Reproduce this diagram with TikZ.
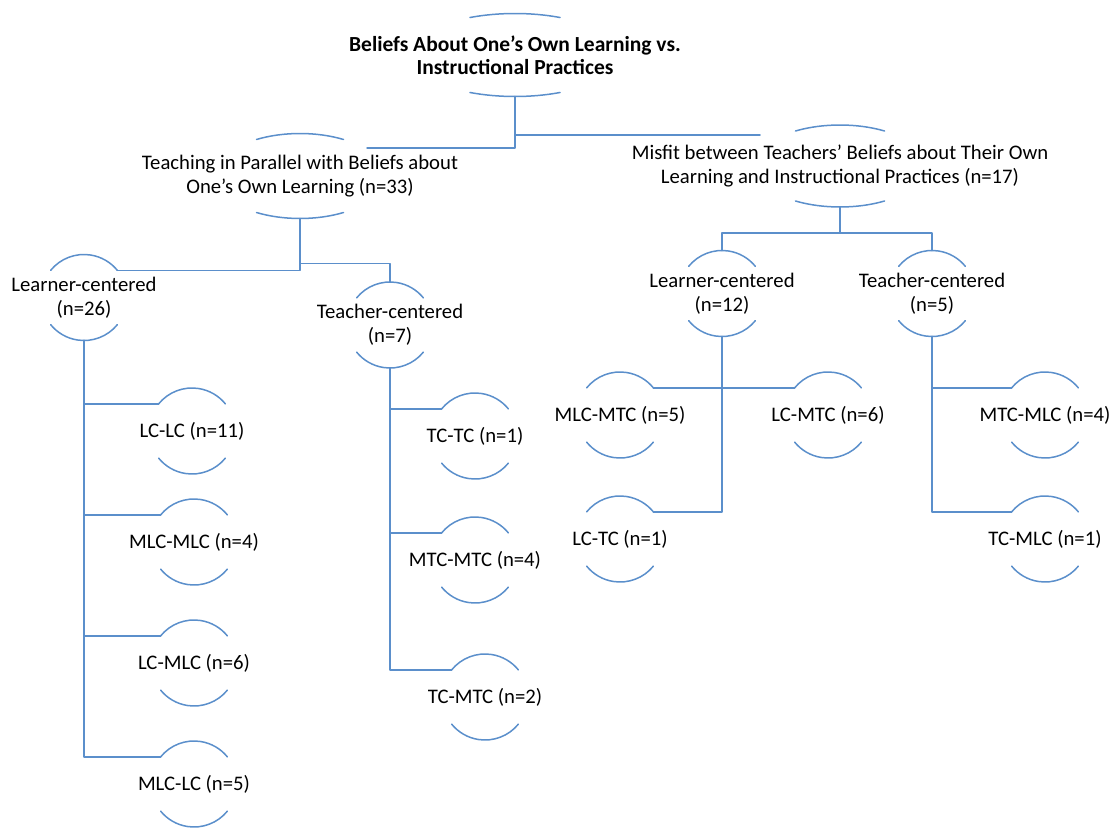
\documentclass[tikz,border=0pt]{standalone}
\usepackage{fontspec}
\setmainfont{Carlito}
\definecolor{linkblue}{RGB}{91,143,203}
\tikzset{
  lbl/.style={align=center, inner sep=0pt, font=\fontsize{20.7}{24}\selectfont},
  link/.style={draw=linkblue, line width=1.5pt},
}
\begin{document}
\begin{tikzpicture}[x=1pt,y=-1pt,line join=round,line cap=round]
				\useasboundingbox (0,0) rectangle (1110,829);
				% upper levels
				\node[lbl,font=\fontsize{21.5}{23}\selectfont\bfseries] (root) at (515,55) {Beliefs About One’s Own Learning vs.\\Instructional Practices};
				\node[lbl] (teach) at (300,176) {Teaching in Parallel with Beliefs about\\One’s Own Learning (n=33)};
				\node[lbl] (misfit) at (840,166) {Misfit between Teachers’ Beliefs about Their Own\\Learning and Instructional Practices (n=17)};
				\node[lbl] (lc26) at (84,297.5) {Learner-centered\\(n=26)};
				\node[lbl] (tc7) at (390,325) {Teacher-centered\\(n=7)};
				\node[lbl] (lc12) at (722,293.5) {Learner-centered\\(n=12)};
				\node[lbl] (tc5) at (932,293.5) {Teacher-centered\\(n=5)};
				% leaves
				\node[lbl] (lclc) at (192,431) {LC-LC (n=11)};
				\node[lbl] (mlcmlc) at (194,542) {MLC-MLC (n=4)};
				\node[lbl] (lcmlc) at (194,663) {LC-MLC (n=6)};
				\node[lbl] (mlclc) at (194,784) {MLC-LC (n=5)};
				\node[lbl] (tctc) at (475,436) {TC-TC (n=1)};
				\node[lbl] (mtcmtc) at (475,560) {MTC-MTC (n=4)};
				\node[lbl] (tcmtc) at (485,697) {TC-MTC (n=2)};
				\node[lbl] (mlcmtc) at (620,415) {MLC-MTC (n=5)};
				\node[lbl] (lcmtc) at (828,415) {LC-MTC (n=6)};
				\node[lbl] (lctc) at (620,539) {LC-TC (n=1)};
				\node[lbl] (mtcmlc) at (1045,415) {MTC-MLC (n=4)};
				\node[lbl] (tcmlc) at (1045,539) {TC-MLC (n=1)};
				% arcs above and below each label
				\foreach \n/\a/\b/\t in {root/105/41.5/64.6,teach/85/42.5/59.2,misfit/85.5/41/58.6,lc26/43/43/39,tc7/43/43/39,lc12/43/43/39,tc5/43/43/39,lclc/43/43/39,mlcmlc/43/43/39,lcmlc/43/43/39,mlclc/43/43/39,tctc/43/43/39,mtcmtc/43/43/39,tcmtc/43/43/39,mlcmtc/43/43/39,lcmtc/43/43/39,lctc/43/43/39,mtcmlc/43/43/39,tcmlc/43/43/39}{
					\draw[link] (\n.center) ++({-\a*cos(\t)},{-\b*sin(\t)}) arc[start angle=180+\t,end angle=360-\t,x radius=\a,y radius=\b];
					\draw[link] (\n.center) ++({\a*cos(\t)},{\b*sin(\t)}) arc[start angle=\t,end angle=180-\t,x radius=\a,y radius=\b];
					\coordinate (\n-t) at ([shift={(0,-\b)}]\n.center);
					\coordinate (\n-b) at ([shift={(0,\b)}]\n.center);
					\coordinate (\n-tl) at ([shift={({-\a*cos(\t)},{-\b*sin(\t)})}]\n.center);
					\coordinate (\n-tr) at ([shift={({\a*cos(\t)},{-\b*sin(\t)})}]\n.center);
				}
				% connectors
				\coordinate (teach-in) at (367,148);
				\coordinate (misfit-in) at (760,135);
				\draw[link] (root-b) |- (teach-in) (root-b) |- (misfit-in);
				\draw[link] (teach-b) |- (lc26-tr) (teach-b) -- ++(0,45) -| (tc7-t);
				\draw[link] (misfit-b) -- ++(0,26) -| (lc12-t) (misfit-b) -- ++(0,26) -| (tc5-t);
				\foreach \i in {lclc,mlcmlc,lcmlc,mlclc}{\draw[link] (lc26-b) |- (\i-tl);}
				\foreach \i in {tctc,mtcmtc,tcmtc}{\draw[link] (tc7-b) |- (\i-tl);}
				\draw[link] (lc12-b) |- (mlcmtc-tr) (lc12-b) |- (lcmtc-tl) (lc12-b) |- (lctc-tr);
				\foreach \i in {mtcmlc,tcmlc}{\draw[link] (tc5-b) |- (\i-tl);}
			\end{tikzpicture}
\end{document}
